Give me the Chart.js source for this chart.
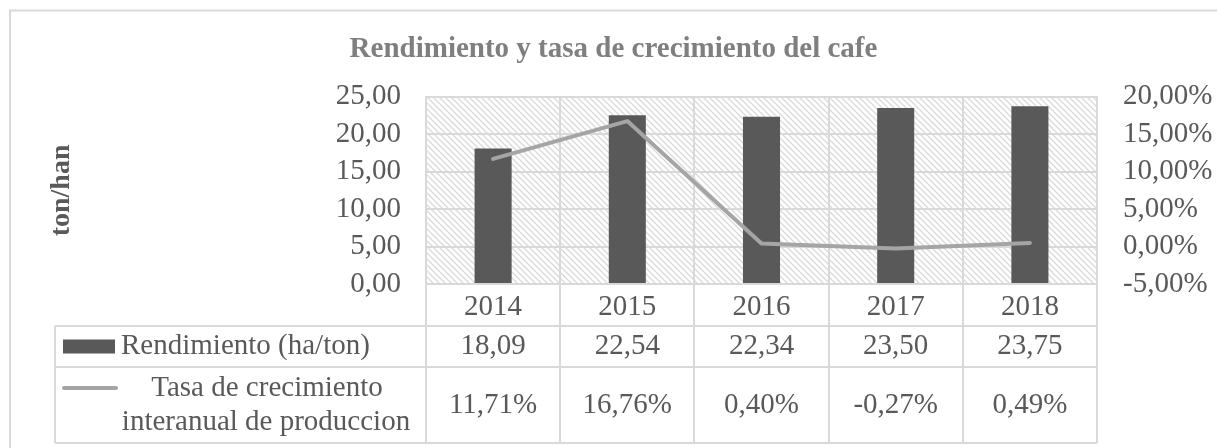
<!DOCTYPE html>
<html>
<head>
<meta charset="utf-8">
<title>Rendimiento y tasa de crecimiento del cafe</title>
<script src="https://cdn.jsdelivr.net/npm/chart.js@4/dist/chart.umd.min.js"></script>
<style>
  html, body { margin: 0; padding: 0; background: #fff; }
  #wrap { width: 1217px; height: 448px; }
</style>
</head>
<body>
<div id="wrap"><canvas id="chart" width="1217" height="448"></canvas></div>
<script>
const years = ['2014', '2015', '2016', '2017', '2018'];
const rendimiento = [18.09, 22.54, 22.34, 23.50, 23.75];
const tasa = [0.1171, 0.1676, 0.0040, -0.0027, 0.0049];
const seriesNames = ['Rendimiento (ha/ton)', 'Tasa de crecimiento', 'interanual de produccion'];

const FONT = "'Liberation Serif', 'Times New Roman', serif";
const TEXT = '#595959';
const LINE = '#d9d9d9';

function fmtNum(v) {
  return v.toFixed(2).replace('.', ',');
}

function fmtPct(v) {
  return (v * 100).toFixed(2).replace('.', ',') + '%';
}

function hatch() {
  const c = document.createElement('canvas');
  c.width = 6;
  c.height = 6;
  const g = c.getContext('2d');
  g.fillStyle = '#fff';
  g.fillRect(0, 0, 6, 6);
  g.strokeStyle = '#d9d9d9';
  g.lineWidth = 1.3;
  g.beginPath();
  g.moveTo(-1, -1); g.lineTo(7, 7);
  g.moveTo(-1, 5); g.lineTo(1, 7);
  g.moveTo(5, -1); g.lineTo(7, 1);
  g.stroke();
  return g.createPattern(c, 'repeat');
}

const frame = {
  id: 'frame',
  beforeDraw(chart) {
    const ctx = chart.ctx;
    const a = chart.chartArea;
    ctx.save();
    ctx.fillStyle = '#fff';
    ctx.fillRect(0, 0, chart.width, chart.height);
    ctx.strokeStyle = LINE;
    ctx.lineWidth = 2;
    ctx.beginPath();
    ctx.moveTo(10, chart.height);
    ctx.lineTo(10, 10.5);
    ctx.lineTo(chart.width, 10.5);
    ctx.stroke();
    ctx.fillStyle = hatch();
    ctx.fillRect(a.left, a.top, a.right - a.left, a.bottom - a.top);
    ctx.restore();
  }
};

// data table under the plot, columns follow the x scale
const table = {
  id: 'table',
  afterDraw(chart) {
    const ctx = chart.ctx;
    const x = chart.scales.x;
    const colW = x.width / years.length;
    const top = x.top;
    const r1 = top + 42, r2 = r1 + 41, bottom = r2 + 76;
    const tLeft = 55;
    ctx.save();
    ctx.strokeStyle = LINE;
    ctx.lineWidth = 2;
    ctx.beginPath();
    for (let i = 0; i <= years.length; i++) {
      const px = Math.round(x.left + i * colW);
      ctx.moveTo(px, top);
      ctx.lineTo(px, bottom);
    }
    ctx.moveTo(tLeft, r1); ctx.lineTo(tLeft, bottom);
    [r1, r2, bottom].forEach(y => { ctx.moveTo(tLeft, y); ctx.lineTo(x.right, y); });
    ctx.stroke();

    ctx.font = '29px ' + FONT;
    ctx.fillStyle = TEXT;
    ctx.textBaseline = 'middle';
    ctx.textAlign = 'center';
    const m1 = (r1 + r2) / 2, m2 = (r2 + bottom) / 2;
    years.forEach((y, i) => {
      const px = x.getPixelForValue(i);
      ctx.fillText(fmtNum(rendimiento[i]), px, m1);
      ctx.fillText(fmtPct(tasa[i]), px, m2);
    });

    // legend keys
    ctx.fillStyle = '#595959';
    ctx.fillRect(63, m1 - 7, 52, 14);
    ctx.strokeStyle = '#a5a5a5';
    ctx.lineWidth = 4;
    ctx.lineCap = 'round';
    ctx.beginPath();
    ctx.moveTo(64, m2 - 17); ctx.lineTo(116, m2 - 17);
    ctx.stroke();

    ctx.fillStyle = TEXT;
    ctx.textAlign = 'left';
    ctx.fillText(seriesNames[0], 121, m1);
    ctx.textAlign = 'center';
    ctx.fillText(seriesNames[1], 267, m2 - 17);
    ctx.fillText(seriesNames[2], 266, m2 + 17);
    ctx.restore();
  }
};

new Chart(document.getElementById('chart'), {
  type: 'bar',
  data: {
    labels: years,
    datasets: [
      {
        type: 'line',
        label: 'Tasa de crecimiento interanual de produccion',
        data: tasa,
        yAxisID: 'y1',
        borderColor: '#a5a5a5',
        borderWidth: 4,
        borderCapStyle: 'round',
        borderJoinStyle: 'round',
        pointRadius: 0,
        tension: 0,
        order: 0
      },
      {
        label: 'Rendimiento (ha/ton)',
        data: rendimiento,
        yAxisID: 'y',
        backgroundColor: '#595959',
        categoryPercentage: 1,
        barPercentage: 0.276,
        order: 1
      }
    ]
  },
  options: {
    responsive: false,
    animation: false,
    layout: { padding: { left: 10, right: 0, top: 0, bottom: 0 } },
    plugins: {
      legend: { display: false },
      tooltip: { enabled: false },
      title: {
        display: true,
        text: 'Rendimiento y tasa de crecimiento del cafe',
        color: '#7f7f7f',
        font: { family: FONT, size: 29, weight: 'bold' },
        padding: { top: 32, bottom: 30 }
      }
    },
    scales: {
      x: {
        grid: { color: LINE, lineWidth: 2, drawTicks: false, offset: true },
        border: { color: LINE, width: 2 },
        ticks: { color: TEXT, font: { family: FONT, size: 29 }, padding: 6 },
        afterFit(s) { s.height = 164; }
      },
      y: {
        position: 'left',
        min: 0,
        max: 25,
        ticks: {
          stepSize: 5,
          autoSkip: false,
          color: TEXT,
          font: { family: FONT, size: 29 },
          padding: 25,
          callback: v => fmtNum(v)
        },
        grid: { color: LINE, lineWidth: 2, drawTicks: false },
        border: { color: LINE, width: 2 },
        title: {
          display: true,
          text: 'ton/han',
          color: TEXT,
          font: { family: FONT, size: 28, weight: 'bold' },
          padding: { top: 35 }
        },
        afterFit(s) { s.width = 416; }
      },
      y1: {
        position: 'right',
        min: -0.05,
        max: 0.2,
        ticks: {
          stepSize: 0.05,
          autoSkip: false,
          color: TEXT,
          font: { family: FONT, size: 29 },
          padding: 26,
          callback: v => fmtPct(v)
        },
        grid: { drawOnChartArea: false, drawTicks: false },
        border: { color: LINE, width: 2 },
        afterFit(s) { s.width = 120; }
      }
    }
  },
  plugins: [frame, table]
});
</script>
</body>
</html>
